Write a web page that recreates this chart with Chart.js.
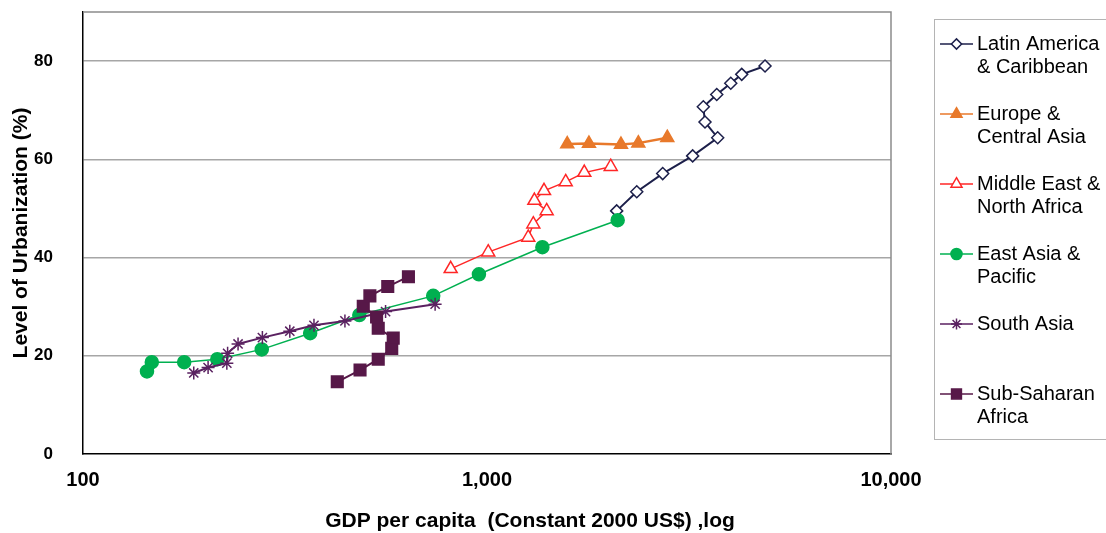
<!DOCTYPE html>
<html>
<head>
<meta charset="utf-8">
<script src="https://cdn.jsdelivr.net/npm/chart.js@4/dist/chart.umd.min.js"></script>
<style>
  html, body { margin: 0; padding: 0; background: #fff; }
  #wrap { position: relative; width: 1106px; height: 533px; }
</style>
</head>
<body>
<div id="wrap"><canvas id="urbanChart" width="1106" height="533"></canvas></div>
<script>
// ========== Data ==========
const regionNames = [
  'Latin America\n& Caribbean',
  'Europe &\nCentral Asia',
  'Middle East &\nNorth Africa',
  'East Asia &\nPacific',
  'South Asia',
  'Sub-Saharan\nAfrica'
];

const latamGdp = [2094, 2348, 2722, 3229, 3724, 3464, 3431, 3704, 4012, 4271, 4877];
const latamUrban = [49.5, 53.4, 57.1, 60.7, 64.4, 67.6, 70.7, 73.2, 75.5, 77.3, 79.0];

const europeGdp = [1580, 1788, 2146, 2369, 2794];
const europeUrban = [63.1, 63.2, 63.0, 63.3, 64.4];

const menaGdp = [813, 1007, 1265, 1302, 1405, 1310, 1384, 1566, 1741, 2024];
const menaUrban = [37.7, 41.1, 44.1, 46.8, 49.5, 51.6, 53.6, 55.4, 57.3, 58.5];

const eapGdp = [144, 148, 178, 215, 277, 365, 483, 736, 955, 1371, 2106];
const eapUrban = [16.8, 18.7, 18.7, 19.3, 21.3, 24.6, 28.3, 32.2, 36.6, 42.1, 47.6];

const southAsiaGdp = [188, 204, 227, 228, 242, 278, 325, 373, 445, 561, 744];
const southAsiaUrban = [16.5, 17.6, 18.5, 20.5, 22.4, 23.7, 25.0, 26.2, 27.1, 29.0, 30.5];

const ssaGdp = [426, 485, 538, 581, 586, 538, 533, 494, 513, 568, 639];
const ssaUrban = [14.7, 17.1, 19.3, 21.5, 23.6, 25.6, 27.9, 30.1, 32.2, 34.1, 36.1];

const xTickValues = [100, 1000, 10000];
const yTickStep = 20;

// ========== Utils ==========
function toPoints(xs, ys) {
  return xs.map((x, i) => ({ x: x, y: ys[i] }));
}

const seriesStyles = [
  { line: '#1c1f4a', fill: '#ffffff', style: 'rectRot', radius: 6, width: 2 },
  { line: '#e8792b', fill: '#e8792b', style: 'triangle', radius: 7.5, width: 2.5 },
  { line: '#ff2626', fill: '#ffffff', style: 'triangle', radius: 7.5, width: 1.5 },
  { line: '#00b050', fill: '#00b050', style: 'circle', radius: 6.5, width: 1.5 },
  { line: '#5a2160', fill: '#5a2160', style: 'star', radius: 6.5, width: 2 },
  { line: '#571848', fill: '#571848', style: 'rect', radius: 8.2, width: 2 }
];

const seriesData = [
  toPoints(latamGdp, latamUrban),
  toPoints(europeGdp, europeUrban),
  toPoints(menaGdp, menaUrban),
  toPoints(eapGdp, eapUrban),
  toPoints(southAsiaGdp, southAsiaUrban),
  toPoints(ssaGdp, ssaUrban)
];

const datasets = seriesData.map((pts, i) => {
  const s = seriesStyles[i];
  return {
    label: regionNames[i].replace('\n', ' '),
    data: pts,
    showLine: true,
    borderColor: s.line,
    borderWidth: s.width,
    backgroundColor: s.fill,
    pointStyle: s.style,
    pointRadius: s.radius,
    pointHoverRadius: s.radius,
    pointBorderColor: s.line,
    pointBackgroundColor: s.fill,
    pointBorderWidth: 1.5,
    order: -i
  };
});

const FONT = '"Liberation Sans", Arial, sans-serif';

// ========== Plot frame + x title + legend ==========
const framePlugin = {
  id: 'frame',
  beforeDatasetsDraw(chart) {
    const { ctx, chartArea: a } = chart;
    ctx.save();
    ctx.strokeStyle = '#8c8c8c';
    ctx.lineWidth = 1.5;
    ctx.beginPath();
    ctx.moveTo(a.left, a.top);
    ctx.lineTo(a.right, a.top);
    ctx.lineTo(a.right, a.bottom);
    ctx.stroke();
    ctx.restore();
  },
  afterDraw(chart) {
    const ctx = chart.ctx;
    ctx.save();
    // x axis title
    ctx.fillStyle = '#000';
    ctx.font = 'bold 21px ' + FONT;
    ctx.textAlign = 'center';
    ctx.textBaseline = 'middle';
    ctx.fillText('GDP per capita  (Constant 2000 US$) ,log', 530, 521);

    // legend box
    ctx.strokeStyle = '#b4b4b4';
    ctx.lineWidth = 1;
    ctx.strokeRect(934.5, 19.5, 175, 420);

    ctx.font = '20px ' + FONT;
    ctx.textAlign = 'left';
    regionNames.forEach((name, i) => {
      const s = seriesStyles[i];
      const y = 44 + i * 70;
      ctx.strokeStyle = s.line;
      ctx.lineWidth = 1.5;
      ctx.beginPath();
      ctx.moveTo(940, y);
      ctx.lineTo(973, y);
      ctx.stroke();
      ctx.fillStyle = s.fill;
      ctx.strokeStyle = s.line;
      Chart.helpers.drawPoint(ctx, { pointStyle: s.style, radius: s.radius * 0.85, rotation: 0, borderWidth: 1.5 }, 956.5, y);
      ctx.fillStyle = '#000';
      name.split('\n').forEach((ln, j) => ctx.fillText(ln, 977, y + j * 23.5));
    });
    ctx.restore();
  }
};

// ========== Chart ==========
new Chart(document.getElementById('urbanChart'), {
  type: 'scatter',
  data: { datasets: datasets },
  plugins: [framePlugin],
  options: {
    responsive: false,
    devicePixelRatio: 1,
    animation: false,
    layout: { padding: { top: 12, right: 215, left: 0, bottom: 0 } },
    plugins: { legend: { display: false }, tooltip: { enabled: false } },
    scales: {
      x: {
        type: 'logarithmic',
        min: 100,
        max: 10000,
        afterBuildTicks: (scale) => { scale.ticks = xTickValues.map(v => ({ value: v })); },
        afterFit: (scale) => {
          scale.height = 79;
          scale.paddingLeft = 0;
          scale.paddingRight = 0;
        },
        grid: { display: false, drawTicks: false },
        border: { display: true, color: '#000', width: 1.5 },
        ticks: {
          padding: 14,
          color: '#000',
          font: { family: FONT, size: 20, weight: 'bold' },
          maxRotation: 0,
          callback: (v) => Number(v).toLocaleString('en-US')
        }
      },
      y: {
        min: 0,
        max: 90,
        afterFit: (scale) => {
          scale.width = 83;
          scale.paddingTop = 0;
          scale.paddingBottom = 0;
        },
        grid: {
          drawTicks: false,
          color: (c) => (c.tick && (c.tick.value === 0 || c.tick.value === 90)) ? 'rgba(0,0,0,0)' : '#a6a6a6',
          lineWidth: 1.5
        },
        border: { display: true, color: '#000', width: 1.5 },
        ticks: {
          stepSize: yTickStep,
          padding: 30,
          color: '#000',
          font: { family: FONT, size: 17, weight: 'bold' },
          callback: (v) => (v % yTickStep === 0 ? v : '')
        },
        title: {
          display: true,
          text: 'Level of Urbanization (%)',
          color: '#000',
          font: { family: FONT, size: 21, weight: 'bold' },
          padding: { top: 9, bottom: 0 }
        }
      }
    }
  }
});
</script>
</body>
</html>
